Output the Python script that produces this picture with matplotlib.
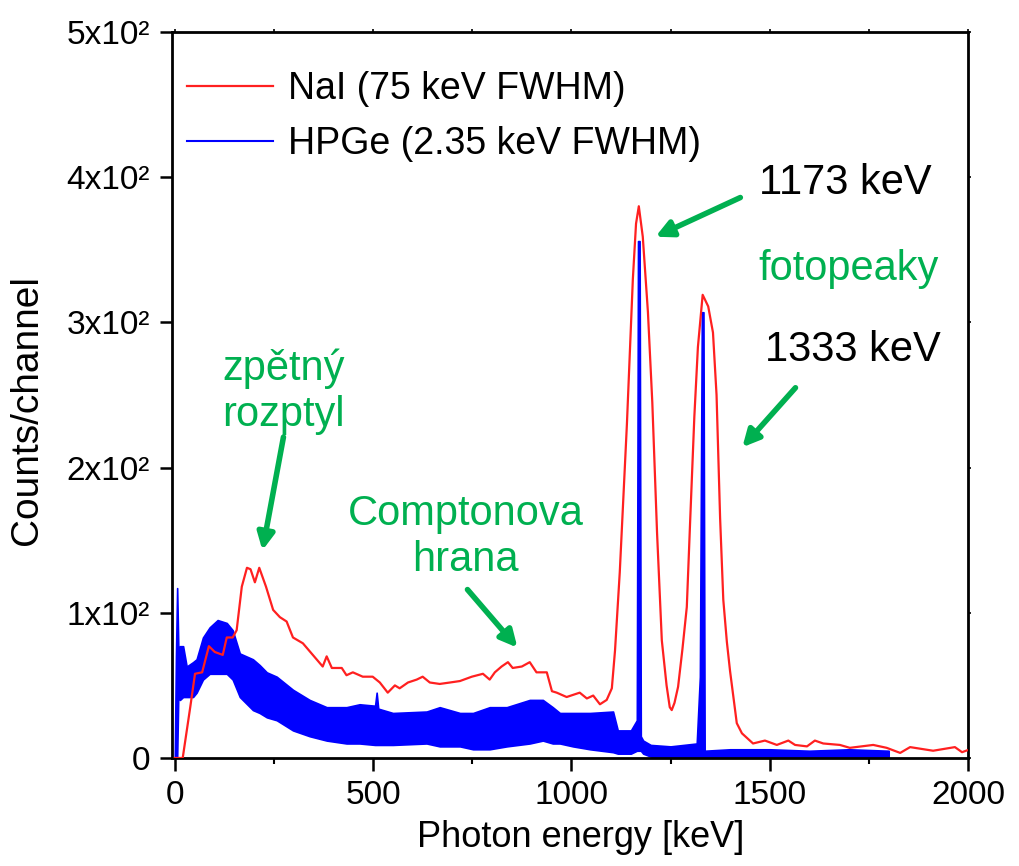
import matplotlib
matplotlib.use('Agg')
import matplotlib.pyplot as plt
import numpy as np

# NaI spectrum (red)
nai_e = [0, 20, 39, 51, 69, 86, 101, 121, 131, 146, 156, 169, 182, 191, 202, 213,
         230, 248, 265, 282, 298, 323, 348, 373, 383, 396, 421, 433, 449, 474, 499,
         517, 537, 555, 567, 588, 610, 625, 643, 668, 694, 719, 749, 777, 794, 807,
         824, 840, 852, 875, 895, 912, 938, 951, 963, 988, 1021, 1039, 1055, 1072,
         1089, 1102, 1110, 1122, 1140, 1155, 1163, 1170, 1180, 1193, 1204, 1216,
         1228, 1240, 1248, 1253, 1260, 1269, 1280, 1291, 1299, 1310, 1319, 1331,
         1345, 1357, 1366, 1375, 1383, 1392, 1400, 1417, 1430, 1458, 1488, 1518,
         1547, 1564, 1594, 1614, 1635, 1677, 1702, 1761, 1795, 1829, 1854, 1912,
         1967, 1985, 2000]
nai_c = [0, 0, 35, 58, 59, 77, 73, 71, 83, 83, 88, 118, 131, 130, 121, 131,
         118, 102, 97, 94, 83, 79, 71, 63, 70, 62, 62, 57, 59, 56, 56,
         52, 45, 50, 48, 52, 54, 56, 52, 51, 52, 53, 56, 58, 54, 59,
         63, 66, 62, 63, 66, 59, 59, 46, 45, 42, 45, 41, 43, 37,
         40, 48, 74, 128, 230, 330, 368, 380, 359, 307, 245, 155,
         81, 50, 35, 33, 38, 49, 75, 104, 160, 235, 283, 319,
         311, 293, 250, 165, 109, 80, 60, 24, 17, 10, 12, 9,
         12, 9, 8, 12, 10, 9, 7, 9, 7, 3.5, 7.5, 5,
         7.5, 4, 5.5]

# HPGe spectrum (blue): noisy band, upper and lower envelope
hpge_e = [0, 3, 6, 9, 13, 21, 30, 46, 55, 71, 88, 108, 131, 146, 164, 197, 214,
          232, 257, 298, 340, 383, 433, 466, 505, 509, 513, 550, 635, 668, 719,
          752, 794, 837, 895, 928, 953, 971, 1004, 1047, 1105, 1117, 1150, 1165,
          1168, 1172, 1175, 1181, 1200, 1250, 1316, 1324, 1329, 1333, 1336, 1400,
          1500, 1600, 1700, 1800]
hpge_hi = [0, 70, 117, 75, 77, 77, 63, 66, 68, 83, 90, 95, 93, 88, 72, 68, 64,
           59, 56, 47, 40, 35, 35, 37, 36, 45, 34, 31, 32, 35, 31,
           31, 35, 35, 40, 40, 35, 31, 31, 31, 32, 19, 19, 26,
           356, 356, 15, 12, 9, 8, 10, 56, 307, 307, 5, 6,
           6, 5, 6, 5]
hpge_lo = [0, 0, 0, 45, 40, 42, 42, 42, 45, 54, 58, 58, 58, 54, 42, 33, 31,
           28, 26, 19, 15, 12, 10, 10, 9, 9, 9, 9, 10, 8, 8,
           6, 6, 8, 10, 12, 10, 10, 8, 6, 4, 3, 3, 5,
           5, 5, 5, 3, 1, 0, 0, 0, 0, 0, 0, 0,
           0, 0, 0, 0]

yticks = [0, 100, 200, 300, 400, 500]
ytick_labels = ['0', '1x10²', '2x10²', '3x10²', '4x10²', '5x10²']
xticks = [0, 500, 1000, 1500, 2000]

green = '#00B050'
plt.rcParams['font.family'] = ['Liberation Sans', 'DejaVu Sans']

fig = plt.figure(figsize=(10.19, 8.66), dpi=100)
ax = fig.add_axes([172/1019, 1-758/866, (968-172)/1019, (758-32)/866])

ax.fill_between(hpge_e, hpge_lo, hpge_hi, color='#0000FF', lw=1.2, zorder=2)
ax.plot([], [], color='#0000FF', lw=1.5, label='HPGe (2.35 keV FWHM)')
ax.plot(nai_e, nai_c, color='#FF2020', lw=1.6, zorder=3, label='NaI (75 keV FWHM)')

ax.set_xlim(-7, 2000)
ax.set_ylim(0, 500)
ax.set_xticks(xticks)
ax.set_xticks([250, 750, 1250, 1750], minor=True)
ax.set_yticks(yticks)
ax.set_yticklabels(ytick_labels)
ax.tick_params(labelsize=24)
ax.tick_params(which='major', direction='out', length=9, width=1.8, pad=7)
ax.tick_params(which='minor', direction='out', length=4, width=1.5)
for s in ax.spines.values():
    s.set_linewidth(2)

# tiny ticks on top and right
sx = ax.secondary_xaxis('top')
sx.set_xticks(np.arange(0, 2001, 250))
sx.tick_params(length=2, width=1.2, labeltop=False)
sy = ax.secondary_yaxis('right')
sy.set_yticks(yticks)
sy.tick_params(length=2, width=1.2, labelright=False)

ax.set_xlabel('Photon energy [keV]', fontsize=26)
ax.set_ylabel('Counts/channel', fontsize=28)
ax.xaxis.set_label_coords(0.513, -0.085)
ax.yaxis.set_label_coords(-0.16, 0.479)

handles, labels = ax.get_legend_handles_labels()
ax.legend(handles[::-1], labels[::-1], loc='upper left', frameon=False,
          fontsize=27, handlelength=2.3, handletextpad=0.4, labelspacing=0.5,
          borderaxespad=0, bbox_to_anchor=(0.0, 0.967))

# annotations
ax.text(1691, 396, '1173 keV', fontsize=30, ha='center', va='center', color='black')
ax.text(1698, 337, 'fotopeaky', fontsize=30, ha='center', va='center', color=green)
ax.text(1709, 281, '1333 keV', fontsize=30, ha='center', va='center', color='black')
ax.text(274, 252, 'zpětný\nrozptyl', fontsize=30, ha='center', va='center',
        color=green, linespacing=1.2)
ax.text(733, 152, 'Comptonova\nhrana', fontsize=30, ha='center', va='center',
        color=green, linespacing=1.2)

arrow = dict(arrowstyle='-|>,head_length=1.0,head_width=0.5', lw=4,
             color=green, shrinkA=0, shrinkB=0)
ax.annotate('', xy=(1212, 359), xytext=(1426, 386), arrowprops=arrow)
ax.annotate('', xy=(1431, 214), xytext=(1565, 255), arrowprops=arrow)
ax.annotate('', xy=(221, 143), xytext=(274, 221), arrowprops=arrow)
ax.annotate('', xy=(864, 76), xytext=(738, 116), arrowprops=arrow)

fig.savefig('out.png', dpi=100)
